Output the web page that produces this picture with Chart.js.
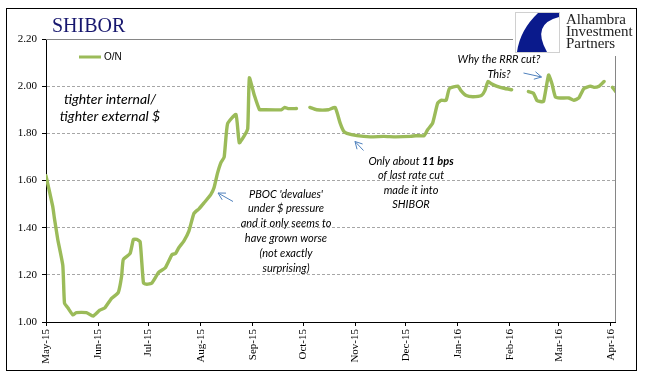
<!DOCTYPE html>
<html>
<head>
<meta charset="utf-8">
<script src="https://cdn.jsdelivr.net/npm/chart.js@4.4.1/dist/chart.umd.min.js"></script>
<style>
  html, body { margin: 0; padding: 0; background: #fff; }
  #wrap { width: 645px; height: 379px; }
</style>
</head>
<body>
<div id="wrap"><canvas id="shibor" width="645" height="379"></canvas></div>
<script>
// SHIBOR overnight (null = no fixing, holiday gap)
const dates = [
  '2015-05-01','2015-05-05','2015-05-06','2015-05-08','2015-05-11','2015-05-12','2015-05-14','2015-05-17',
  '2015-05-19','2015-05-25','2015-05-29','2015-06-02','2015-06-05','2015-06-09','2015-06-13','2015-06-15',
  '2015-06-16','2015-06-20','2015-06-22','2015-06-24','2015-06-26','2015-06-28','2015-06-30','2015-07-03',
  '2015-07-07','2015-07-11','2015-07-15','2015-07-17','2015-07-19','2015-07-22','2015-07-25','2015-07-28',
  '2015-07-31','2015-08-03','2015-08-07','2015-08-09','2015-08-11','2015-08-13','2015-08-15','2015-08-17',
  '2015-08-22','2015-08-24','2015-08-27','2015-08-29','2015-08-30','2015-09-02','2015-09-05','2015-09-06',
  '2015-09-18','2015-09-20','2015-09-22','2015-09-27','2015-10-01','2015-10-05','2015-10-09','2015-10-16',
  '2015-10-20','2015-10-23','2015-10-25','2015-10-27','2015-11-02','2015-11-10','2015-11-18','2015-11-25',
  '2015-12-04','2015-12-07','2015-12-12','2015-12-14','2015-12-17','2015-12-20','2015-12-22','2015-12-25',
  '2015-12-27','2016-01-01','2016-01-03','2016-01-06','2016-01-10','2016-01-15','2016-01-17','2016-01-19',
  '2016-01-21','2016-01-24','2016-01-29','2016-02-02','2016-02-06','2016-02-12','2016-02-15','2016-02-17',
  '2016-02-19','2016-02-21','2016-02-24','2016-02-26','2016-02-28','2016-03-02','2016-03-07','2016-03-10',
  '2016-03-13','2016-03-16','2016-03-20','2016-03-22','2016-03-25','2016-03-28','2016-03-30','2016-04-02',
  '2016-04-04'
];
const onValues = [
  1.62, 1.49, 1.44, 1.35, 1.24, 1.08, 1.06, 1.03,
  1.04, 1.04, 1.025, 1.05, 1.06, 1.10, 1.125, 1.195,
  1.265, 1.29, 1.35, 1.35, 1.34, 1.165, 1.16, 1.165,
  1.21, 1.23, 1.286, 1.29, 1.315, 1.343, 1.385, 1.46,
  1.48, 1.505, 1.54, 1.57, 1.63, 1.675, 1.70, 1.84,
  1.88, 1.76, 1.79, 1.82, 2.035, 1.96, 1.90, 1.90,
  1.90, 1.91, 1.905, 1.905, null, 1.91, 1.90, 1.90,
  1.91, 1.843, 1.81, 1.80, 1.79, 1.785, 1.787, 1.785,
  1.787, 1.79, 1.79, 1.815, 1.843, 1.928, 1.94, 1.94,
  1.99, 2.00, 1.98, 1.96, 1.955, 1.96, 1.98, 2.02,
  2.01, 2.00, 1.99, 1.985, null, 1.977, 1.97, 1.94,
  1.935, 1.935, 2.047, 2.01, 1.955, 1.95, 1.95, 1.94,
  1.95, 1.99, 2.00, 1.995, 2.00, 2.02, null, 1.995,
  1.977
];
const monthStarts = ['2015-05-01','2015-06-01','2015-07-01','2015-08-01','2015-09-01','2015-10-01',
  '2015-11-01','2015-12-01','2016-01-01','2016-02-01','2016-03-01','2016-04-01'];
const monthLabels = ['May-15','Jun-15','Jul-15','Aug-15','Sep-15','Oct-15',
  'Nov-15','Dec-15','Jan-16','Feb-16','Mar-16','Apr-16'];
const yTickValues = [1.00, 1.20, 1.40, 1.60, 1.80, 2.00, 2.20];

const origin = Date.UTC(2015, 4, 1);
const dayOf = s => {
  const [y, m, d] = s.split('-').map(Number);
  return Math.round((Date.UTC(y, m - 1, d) - origin) / 86400000);
};
const monthDays = monthStarts.map(dayOf);
const points = dates.map((d, i) => ({ x: dayOf(d), y: onValues[i] }));

const GREEN = '#9BBB59';
const ARROW = '#4F81BD';

function arrow(ctx, x1, y1, x2, y2) {
  const ang = Math.atan2(y2 - y1, x2 - x1), h = 8;
  ctx.save();
  ctx.strokeStyle = ARROW;
  ctx.lineWidth = 1;
  ctx.beginPath();
  ctx.moveTo(x1, y1); ctx.lineTo(x2, y2);
  ctx.moveTo(x2 - h * Math.cos(ang - 0.5), y2 - h * Math.sin(ang - 0.5));
  ctx.lineTo(x2, y2);
  ctx.lineTo(x2 - h * Math.cos(ang + 0.5), y2 - h * Math.sin(ang + 0.5));
  ctx.stroke();
  ctx.restore();
}

function centered(ctx, lines, cx, y0, step) {
  lines.forEach((t, i) => ctx.fillText(t, cx, y0 + i * step));
}

const decorations = {
  id: 'decorations',
  beforeDatasetsDraw(chart) {
    const { ctx, chartArea: a } = chart;
    ctx.save();
    ctx.strokeStyle = '#868686';
    ctx.lineWidth = 1;
    ctx.beginPath();
    ctx.moveTo(a.left, Math.round(a.top) + 0.5);
    ctx.lineTo(Math.round(a.right) + 0.5, Math.round(a.top) + 0.5);
    ctx.lineTo(Math.round(a.right) + 0.5, a.bottom);
    ctx.stroke();
    ctx.restore();
  },
  afterDraw(chart) {
    const ctx = chart.ctx;
    ctx.save();

    // logo
    ctx.fillStyle = '#fff';
    ctx.fillRect(513, 10, 122, 46);
    ctx.strokeStyle = '#d0d0d0';
    ctx.strokeRect(515.5, 12.5, 44, 40);
    ctx.fillStyle = '#0a1a8c';
    ctx.beginPath();
    ctx.moveTo(538, 13);
    ctx.lineTo(559, 13);
    ctx.lineTo(559, 17);
    ctx.quadraticCurveTo(531, 24, 547, 52);
    ctx.lineTo(517, 52);
    ctx.quadraticCurveTo(520, 30, 538, 13);
    ctx.fill();
    ctx.fillStyle = '#222';
    ctx.font = '15px "Liberation Serif"';
    ctx.textAlign = 'left';
    ctx.textBaseline = 'alphabetic';
    ctx.fillText('Alhambra', 566, 24);
    ctx.fillText('Investment', 566, 36);
    ctx.fillText('Partners', 566, 48);

    // title
    ctx.fillStyle = '#17176e';
    ctx.font = '20px "Liberation Serif"';
    ctx.fillText('SHIBOR', 52, 32);

    // legend
    ctx.strokeStyle = GREEN;
    ctx.lineWidth = 3;
    ctx.beginPath();
    ctx.moveTo(79, 57); ctx.lineTo(101, 57);
    ctx.stroke();
    ctx.fillStyle = '#000';
    ctx.font = '10px "Liberation Sans"';
    ctx.textBaseline = 'middle';
    ctx.fillText('O/N', 104, 57);

    // annotations
    ctx.textAlign = 'center';
    ctx.font = 'italic 14px Lato';
    centered(ctx, ['tighter internal/', 'tighter external $'], 110, 99, 17);

    ctx.font = 'italic 11px Lato';
    centered(ctx, ["PBOC 'devalues'", 'under $ pressure', 'and it only seems to',
      'have grown worse', '(not exactly', 'surprising)'], 286, 194, 14.8);
    arrow(ctx, 233, 201.5, 218, 193);

    // "Only about 11 bps" with bold part
    const pre = 'Only about ', bold = '11 bps';
    ctx.font = 'italic 11px Lato';
    const w1 = ctx.measureText(pre).width;
    ctx.font = 'italic bold 11px Lato';
    const w2 = ctx.measureText(bold).width;
    const sx = 411 - (w1 + w2) / 2;
    ctx.textAlign = 'left';
    ctx.font = 'italic 11px Lato';
    ctx.fillText(pre, sx, 161);
    ctx.font = 'italic bold 11px Lato';
    ctx.fillText(bold, sx + w1, 161);
    ctx.textAlign = 'center';
    ctx.font = 'italic 11px Lato';
    centered(ctx, ['of last rate cut', 'made it into', 'SHIBOR'], 411, 175.5, 14.5);
    arrow(ctx, 363.5, 150.5, 355, 141.5);

    centered(ctx, ['Why the RRR cut?', 'This?'], 499, 59.5, 15);
    arrow(ctx, 523.5, 73, 541.5, 77);

    // outer frame
    ctx.strokeStyle = '#000';
    ctx.lineWidth = 1;
    ctx.strokeRect(6.5, 8.5, 630, 362);
    ctx.restore();
  }
};

const ctx = document.getElementById('shibor').getContext('2d');
new Chart(ctx, {
  type: 'line',
  data: {
    datasets: [{
      label: 'O/N',
      data: points,
      borderColor: GREEN,
      backgroundColor: GREEN,
      borderWidth: 3.4,
      pointRadius: 0,
      tension: 0.15,
      spanGaps: false,
      borderJoinStyle: 'round',
      borderCapStyle: 'round'
    }]
  },
  options: {
    responsive: false,
    animation: false,
    layout: { padding: { top: 39, right: 30, left: 0, bottom: 0 } },
    plugins: {
      legend: { display: false },
      tooltip: { enabled: false }
    },
    scales: {
      x: {
        type: 'linear',
        min: 0,
        max: dayOf('2016-04-04') - 0.5,
        afterFit: s => { s.height = 57; },
        afterBuildTicks: s => { s.ticks = monthDays.map(v => ({ value: v })); },
        ticks: {
          autoSkip: false,
          minRotation: 90,
          maxRotation: 90,
          padding: 3,
          color: '#000',
          font: { family: 'Liberation Serif', size: 11 },
          callback: v => monthLabels[monthDays.indexOf(v)]
        },
        grid: { drawOnChartArea: false, tickLength: 4, tickColor: '#000' },
        border: { color: '#000', width: 1 }
      },
      y: {
        min: 1,
        max: 2.2,
        afterFit: s => { s.width = 46; },
        afterBuildTicks: s => { s.ticks = yTickValues.map(v => ({ value: v })); },
        ticks: {
          padding: 5,
          color: '#000',
          font: { family: 'Liberation Serif', size: 11 },
          callback: v => v.toFixed(2)
        },
        grid: {
          color: c => (c.tick && (Math.abs(c.tick.value - 1) < 1e-6 || Math.abs(c.tick.value - 2.2) < 1e-6)) ? 'rgba(0,0,0,0)' : '#a6a6a6',
          tickLength: 4,
          tickColor: '#000'
        },
        border: { color: '#000', width: 1, dash: [3, 2] }
      }
    }
  },
  plugins: [decorations]
});
</script>
</body>
</html>
